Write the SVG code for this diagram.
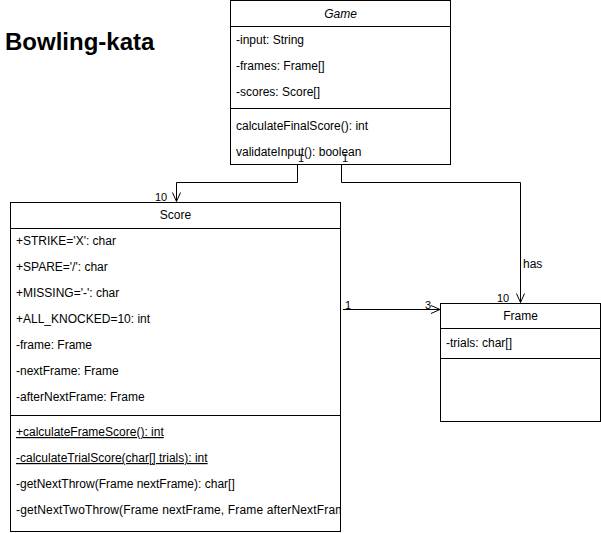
<svg xmlns="http://www.w3.org/2000/svg" width="601" height="533" viewBox="0 0 601 533">
<style>
.box{fill:#fff;stroke:#000;stroke-width:1}
.ln{stroke:#000;stroke-width:1;fill:none}
text{font-family:"Liberation Sans",Arial,sans-serif;font-size:12px;fill:#000}
.lbl{font-size:11px}
.u{text-decoration:underline}
</style>
<defs>
<marker id="open" viewBox="0 0 10 10" refX="10" refY="5" markerWidth="10" markerHeight="10" markerUnits="userSpaceOnUse" orient="auto">
<path d="M1,1 L10,5 L1,9" fill="none" stroke="#000" stroke-width="1"/>
</marker>
<clipPath id="scoreClip"><rect x="10" y="202" width="330" height="330"/></clipPath>
</defs>
<text x="5" y="50" style="font-size:24px;font-weight:bold">Bowling-kata</text>
<g id="game">
<rect class="box" x="230.5" y="0.5" width="220" height="164"/>
<path class="ln" d="M230.5,26.5 H450.5 M230.5,108.5 H450.5"/>
<text x="340.5" y="18" text-anchor="middle" font-style="italic">Game</text>
<text x="236" y="44">-input: String</text>
<text x="236" y="70">-frames: Frame[]</text>
<text x="236" y="96">-scores: Score[]</text>
<text x="236" y="130">calculateFinalScore(): int</text>
<text x="236" y="156">validateInput(): boolean</text>
</g>
<g id="score">
<rect class="box" x="10.5" y="202.5" width="330" height="329"/>
<path class="ln" d="M10.5,228.5 H340.5 M10.5,415.5 H340.5"/>
<text x="175.5" y="219" text-anchor="middle">Score</text>
<g clip-path="url(#scoreClip)">
<text x="16" y="245">+STRIKE='X': char</text>
<text x="16" y="271">+SPARE='/': char</text>
<text x="16" y="297">+MISSING='-': char</text>
<text x="16" y="323">+ALL_KNOCKED=10: int</text>
<text x="16" y="349">-frame: Frame</text>
<text x="16" y="375">-nextFrame: Frame</text>
<text x="16" y="401">-afterNextFrame: Frame</text>
<text x="16" y="436" class="u">+calculateFrameScore(): int</text>
<text x="16" y="462" class="u">-calculateTrialScore(char[] trials): int</text>
<text x="16" y="488">-getNextThrow(Frame nextFrame): char[]</text>
<text x="16" y="514" style="letter-spacing:0.15px">-getNextTwoThrow(Frame nextFrame, Frame afterNextFrame): char[]</text>
</g>
</g>
<g id="frame">
<rect class="box" x="440.5" y="303.5" width="160" height="118"/>
<path class="ln" d="M440.5,328.5 H600.5 M440.5,358.5 H600.5"/>
<text x="520.5" y="320" text-anchor="middle">Frame</text>
<text x="446" y="347">-trials: char[]</text>
</g>
<g id="connectors">
<path class="ln" d="M297.5,164.5 V182.5 H176.5 V201.5" marker-end="url(#open)"/>
<text class="lbl" x="298" y="162">1</text>
<text class="lbl" x="155" y="201">10</text>
<path class="ln" d="M341.5,164.5 V182.5 H520.5 V302.5" marker-end="url(#open)"/>
<text class="lbl" x="342" y="162">1</text>
<text x="523" y="268">has</text>
<text class="lbl" x="497" y="302">10</text>
<path class="ln" d="M343,309.5 H440" marker-end="url(#open)"/>
<text class="lbl" x="345" y="309">1</text>
<text class="lbl" x="425" y="309">3</text>
</g>
</svg>
